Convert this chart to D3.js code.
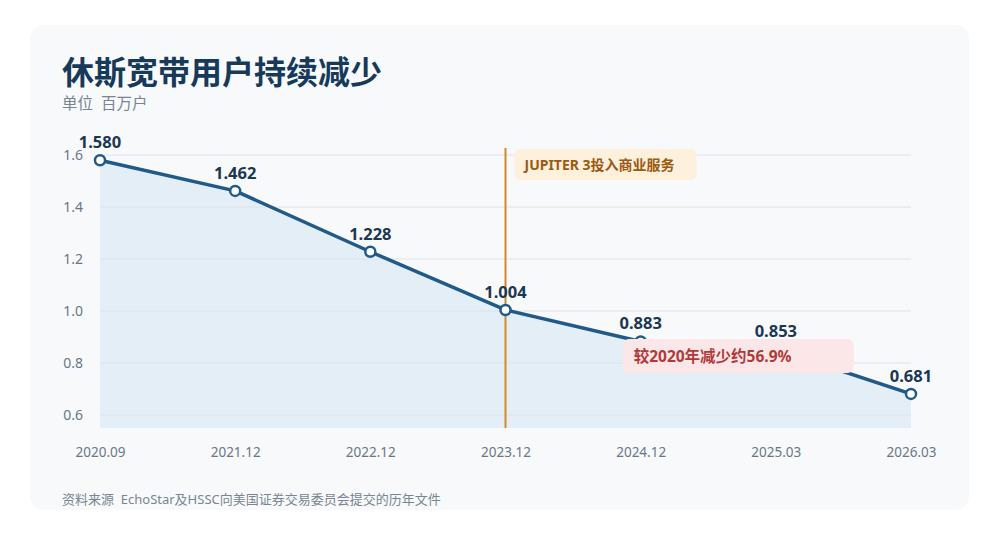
<!DOCTYPE html>
<html>
<head>
<meta charset="utf-8">
<script src="https://cdn.jsdelivr.net/npm/d3@7"></script>
<style>
  html, body { margin: 0; padding: 0; background: #fff; }
  svg { display: block; font-family: "Noto Sans", "Noto Sans CJK SC", sans-serif; }
  text { white-space: pre; }
</style>
</head>
<body>
<div id="chart"></div>
<script>
// data
const periods = ["2020.09", "2021.12", "2022.12", "2023.12", "2024.12", "2025.03", "2026.03"];
const subscribers = [1.580, 1.462, 1.228, 1.004, 0.883, 0.853, 0.681];
const yTicks = [0.6, 0.8, 1.0, 1.2, 1.4, 1.6];
const eventPeriod = "2023.12";
const eventLabel = "JUPITER 3投入商业服务";
const changeLabel = "较2020年减少约56.9%";

const W = 1000, H = 544;
const margin = {top: 148, right: 89, bottom: 116, left: 100};

const svg = d3.select("#chart").append("svg")
  .attr("width", W)
  .attr("height", H);

// card
svg.append("rect")
  .attr("x", 30).attr("y", 25)
  .attr("width", 939).attr("height", 485)
  .attr("rx", 14)
  .attr("fill", "#f7f9fb");

// titles
svg.append("text")
  .attr("x", 62).attr("y", 84)
  .attr("font-size", 32).attr("font-weight", 700)
  .attr("fill", "#173a5a")
  .text("休斯宽带用户持续减少");
svg.append("text")
  .attr("x", 62).attr("y", 109)
  .attr("font-size", 15.5)
  .attr("fill", "#7a8591")
  .text("单位  百万户");

const x = d3.scalePoint()
  .domain(periods)
  .range([margin.left, W - margin.right]);

const y = d3.scaleLinear()
  .domain([0.55, 1.627])
  .range([H - margin.bottom, margin.top]);

const data = periods.map((p, i) => ({p, v: subscribers[i]}));

// area
const area = d3.area()
  .x(d => x(d.p))
  .y0(y(0.55))
  .y1(d => y(d.v));
svg.append("path")
  .datum(data)
  .attr("d", area)
  .attr("fill", "#e3eef6");

// grid
svg.append("g")
  .selectAll("line")
  .data(yTicks)
  .join("line")
    .attr("x1", margin.left)
    .attr("x2", W - margin.right)
    .attr("y1", d => y(d))
    .attr("y2", d => y(d))
    .attr("stroke", "#dde3ec")
    .attr("stroke-width", 1);

// y axis labels
const yAxis = svg.append("g")
  .attr("transform", `translate(${margin.left - 14},0)`)
  .call(d3.axisLeft(y).tickValues(yTicks).tickFormat(d3.format(".1f")).tickSize(0));
yAxis.select(".domain").remove();
yAxis.selectAll("text")
  .attr("font-size", 14)
  .attr("fill", "#6b7785")
  .attr("font-family", "Noto Sans, sans-serif");

// x axis labels
const xAxis = svg.append("g")
  .attr("transform", `translate(0,${H - margin.bottom + 16})`)
  .call(d3.axisBottom(x).tickSize(0));
xAxis.select(".domain").remove();
xAxis.selectAll("text")
  .attr("font-size", 13.5)
  .attr("fill", "#6b7785")
  .attr("font-family", "Noto Sans, sans-serif");

// event line
svg.append("line")
  .attr("x1", x(eventPeriod)).attr("x2", x(eventPeriod))
  .attr("y1", margin.top).attr("y2", y(0.55))
  .attr("stroke", "#d08a2e")
  .attr("stroke-width", 2);

// line
const line = d3.line()
  .x(d => x(d.p))
  .y(d => y(d.v));
svg.append("path")
  .datum(data)
  .attr("d", line)
  .attr("fill", "none")
  .attr("stroke", "#215a88")
  .attr("stroke-width", 3.5)
  .attr("stroke-linejoin", "round");

svg.append("g")
  .selectAll("circle")
  .data(data)
  .join("circle")
    .attr("cx", d => x(d.p))
    .attr("cy", d => y(d.v))
    .attr("r", 5)
    .attr("fill", "#fff")
    .attr("stroke", "#215a88")
    .attr("stroke-width", 2.5);

svg.append("g")
  .selectAll("text")
  .data(data)
  .join("text")
    .attr("x", d => x(d.p))
    .attr("y", d => y(d.v) - 12)
    .attr("text-anchor", "middle")
    .attr("font-size", 16.5)
    .attr("font-weight", 700)
    .attr("fill", "#1c3752")
    .text(d => d3.format(".3f")(d.v));

// event annotation
const ex = x(eventPeriod);
svg.append("rect")
  .attr("x", ex + 9).attr("y", 149)
  .attr("width", 182).attr("height", 31)
  .attr("rx", 6)
  .attr("fill", "#fdf0dc");
svg.append("text")
  .attr("x", ex + 19).attr("y", 170)
  .attr("font-size", 14).attr("font-weight", 700)
  .attr("fill", "#9a5a12")
  .text(eventLabel);

// change annotation
const cx = x("2024.12");
svg.append("rect")
  .attr("x", cx - 18).attr("y", 339)
  .attr("width", 231).attr("height", 34)
  .attr("rx", 6)
  .attr("fill", "#fbe7e7");
svg.append("text")
  .attr("x", cx - 7).attr("y", 362)
  .attr("font-size", 15.5).attr("font-weight", 700)
  .attr("fill", "#b03a3a")
  .text(changeLabel);

// source
svg.append("text")
  .attr("x", 62).attr("y", 504)
  .attr("font-size", 13)
  .attr("fill", "#7a8591")
  .text("资料来源  EchoStar及HSSC向美国证券交易委员会提交的历年文件");
</script>
</body>
</html>
